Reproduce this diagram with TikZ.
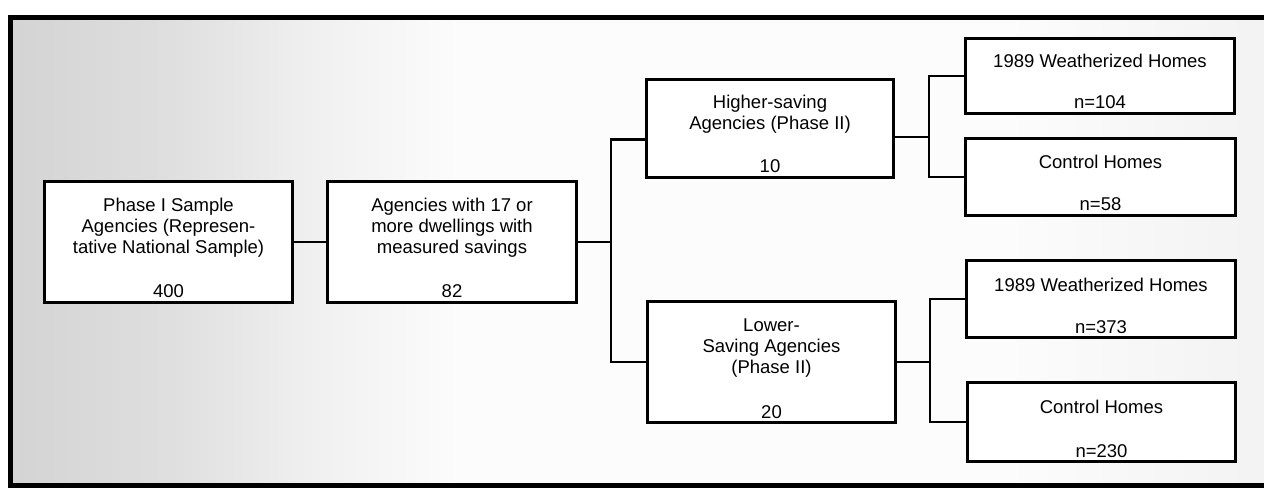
\documentclass[tikz,border=0pt]{standalone}
\usepackage{fontspec}
\setmainfont{Liberation Sans}
\usetikzlibrary{calc}
\pgfdeclarehorizontalshading{paper}{100bp}{color(0bp)=(black!17); color(25bp)=(black!17); color(31bp)=(black!13); color(37bp)=(black!6); color(43bp)=(black!1); color(64bp)=(black!1); color(75bp)=(black!5); color(100bp)=(black!5)}

\begin{document}
\begin{tikzpicture}[x=1pt,y=-1pt,
  box/.style={draw,line width=3pt,fill=white,inner sep=0pt},
  txt/.style={align=center,inner sep=0pt,anchor=base,font=\fontsize{18.5}{21}\selectfont},
  link/.style={line width=2.8pt}]
\useasboundingbox (0,0) rectangle (1264,489);
% shaded paper and frame
\shade[shading=paper] (10,18) rectangle (1270,485);
\draw[line width=5pt] (10,18) rectangle (1270,485);

% first two stages (base = last text line)
\node[box,minimum width=248pt,minimum height=120pt] (phase1) at (168.5,242) {};
\node[txt] (phase1t) at ($(phase1.north)+(0,73)$) {Phase I Sample\\Agencies (Represen-\\tative National Sample)};
\node[txt] (phase1n) at ($(phase1.south)+(0,-6)$) {400};

\node[box,minimum width=249pt,minimum height=120pt] (agencies) at (452,242) {};
\node[txt] (agenciest) at ($(agencies.north)+(0,73)$) {Agencies with 17 or\\more dwellings with\\measured savings};
\node[txt] (agenciesn) at ($(agencies.south)+(0,-6)$) {82};

% phase II agencies
\node[box,minimum width=247pt,minimum height=98pt] (higher) at (770,128.5) {};
\node[txt] (highert) at ($(higher.north)+(0,52)$) {Higher-saving\\Agencies (Phase II)};
\node[txt] (highern) at ($(higher.south)+(0,-6)$) {10};

\node[box,minimum width=248pt,minimum height=121pt] (lower) at (771.5,362) {};
\node[txt] (lowert) at ($(lower.north)+(0,73)$) {Lower-\\Saving Agencies\\(Phase II)};
\node[txt] (lowern) at ($(lower.south)+(0,-6)$) {20};

% homes
\node[box,minimum width=269pt,minimum height=75pt] (weather1) at (1100,76) {};
\node[txt] (weather1t) at ($(weather1.north)+(0,31)$) {1989 Weatherized Homes};
\node[txt] (weather1n) at ($(weather1.south)+(0,-6)$) {n=104};

\node[box,minimum width=270pt,minimum height=77pt] (control1) at (1100.5,177) {};
\node[txt] (control1t) at ($(control1.north)+(0,32)$) {Control Homes};
\node[txt] (control1n) at ($(control1.south)+(0,-6)$) {n=58};

\node[box,minimum width=269pt,minimum height=77pt] (weather2) at (1101,299) {};
\node[txt] (weather2t) at ($(weather2.north)+(0,32)$) {1989 Weatherized Homes};
\node[txt] (weather2n) at ($(weather2.south)+(0,-6)$) {n=373};

\node[box,minimum width=268pt,minimum height=79pt] (control2) at (1101.5,422) {};
\node[txt] (control2t) at ($(control2.north)+(0,32)$) {Control Homes};
\node[txt] (control2n) at ($(control2.south)+(0,-6)$) {n=230};

% connectors
\coordinate (fork1) at (611,242);
\coordinate (fork2) at (929,137);
\coordinate (fork3) at (930,362);
\draw[link] (phase1) -- (agencies);
\draw[link] (agencies) -- (fork1);
\draw[link] ($(higher.west)+(0,11)$) -| (fork1) |- (lower.west);
\draw[link] ($(higher.east)+(0,8.5)$) -- (fork2);
\draw[link] (weather1.west) -| (fork2) |- (control1.west);
\draw[link] (lower) -- (fork3);
\draw[link] (weather2.west) -| (fork3) |- (control2.west);
\end{tikzpicture}
\end{document}
